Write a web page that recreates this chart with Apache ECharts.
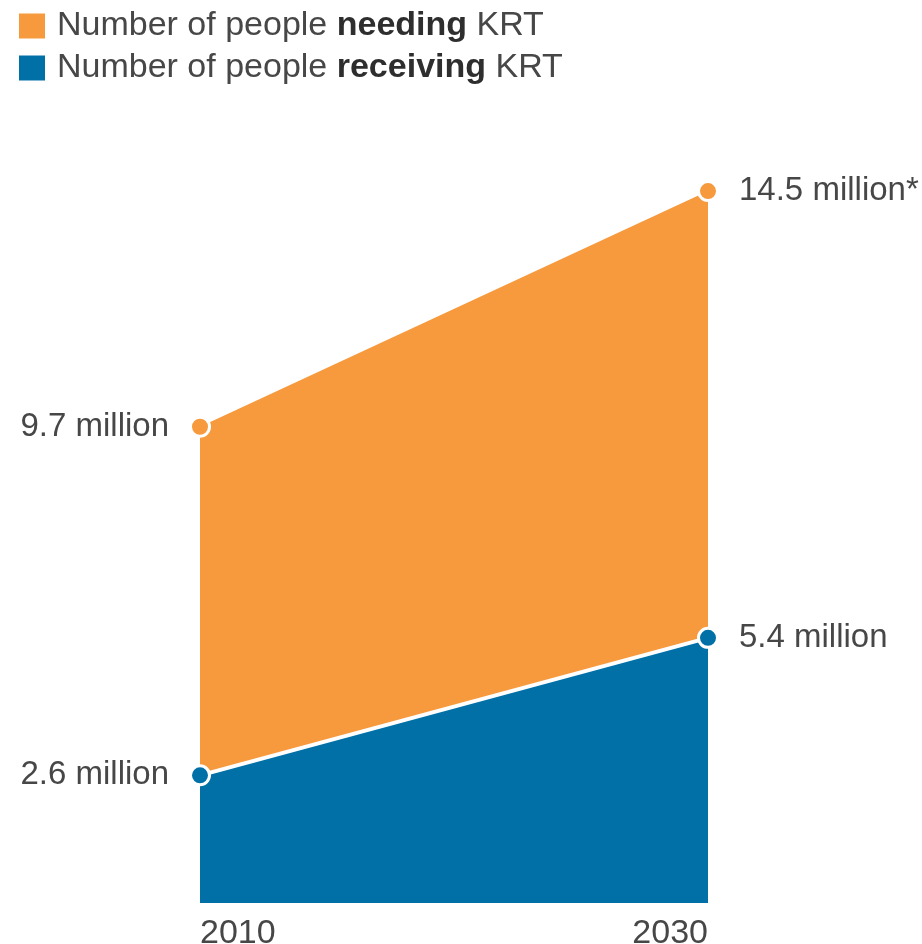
<!DOCTYPE html>
<html>
<head>
<meta charset="utf-8">
<script src="https://cdn.jsdelivr.net/npm/echarts@6/dist/echarts.min.js"></script>
<style>
  html, body { margin: 0; padding: 0; background: #fff; }
  #chart { width: 922px; height: 944px; }
</style>
</head>
<body>
<div id="chart"></div>
<script>
const years = ['2010', '2030'];
const needing = [9.7, 14.5];
const receiving = [2.6, 5.4];
const needingNotes = ['', '*'];
const receivingNotes = ['', ''];

const ORANGE = '#F7993D';
const BLUE = '#0070A7';
const TEXT = '#474747';
const FONT = '"Liberation Sans", Arial, sans-serif';

const chart = echarts.init(document.getElementById('chart'), null, { renderer: 'canvas' });

function points(values, notes) {
  return values.map((v, i) => ({
    value: v,
    label: {
      show: true,
      position: i === 0 ? 'left' : 'right',
      distance: 20,
      formatter: v + ' million' + notes[i],
      color: TEXT,
      fontSize: 33,
      fontFamily: FONT
    }
  }));
}

chart.setOption({
  animation: false,
  legend: {
    orient: 'vertical',
    left: 17,
    top: 9,
    padding: 0,
    itemWidth: 28,
    itemHeight: 27,
    itemGap: 8,
    icon: 'rect',
    data: ['needing', 'receiving'],
    formatter: n => 'Number of people {b|' + n + '} KRT',
    textStyle: {
      color: TEXT,
      fontSize: 34,
      fontFamily: FONT,
      padding: [0, 0, 0, 6],
      rich: {
        b: { fontSize: 34, fontWeight: 'bold', color: '#2e2e2e', fontFamily: FONT }
      }
    }
  },
  grid: { left: 200, right: 214, top: 166.5, bottom: 41, outerBoundsMode: 'none', containLabel: false },
  xAxis: {
    type: 'category',
    data: years,
    boundaryGap: false,
    axisLine: { show: false },
    axisTick: { show: false },
    axisLabel: {
      color: TEXT,
      fontSize: 34,
      fontFamily: FONT,
      margin: 14,
      alignMinLabel: 'left',
      alignMaxLabel: 'right'
    }
  },
  yAxis: {
    type: 'value',
    min: 0,
    max: 15,
    show: false,
    splitLine: { show: false }
  },
  series: [
    {
      name: 'needing',
      type: 'line',
      data: points(needing, needingNotes),
      symbol: 'circle',
      symbolSize: 19,
      itemStyle: { color: ORANGE, borderColor: '#fff', borderWidth: 3 },
      lineStyle: { color: ORANGE, width: 0 },
      areaStyle: { color: ORANGE, opacity: 1 },
      z: 2
    },
    {
      name: 'receiving',
      type: 'line',
      data: points(receiving, receivingNotes),
      symbol: 'circle',
      symbolSize: 19,
      itemStyle: { color: BLUE, borderColor: '#fff', borderWidth: 3 },
      lineStyle: { color: '#fff', width: 4 },
      areaStyle: { color: BLUE, opacity: 1 },
      z: 3
    }
  ]
});
</script>
</body>
</html>
